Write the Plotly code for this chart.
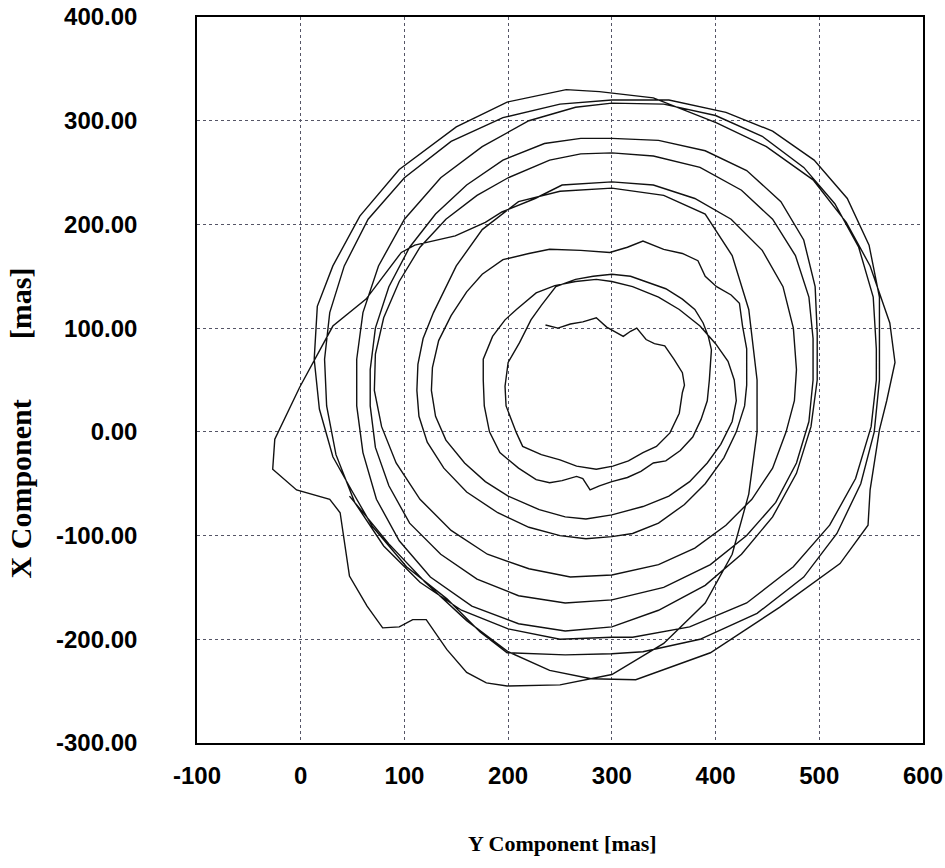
import plotly.graph_objects as go

# ---- data (Y component, X component) in mas ----
loop_01 = [(236,103),(248,100),(260,104),(272,106),(285,110),(295,101),(311,92),(318,97),(324,100),
           (333,89),(341,85),(351,83),(360,70),(368,57),(370,45),(368,38),(365,18),(356,-1),(343,-14),
           (330,-20),(316,-28),(301,-33),(285,-36),(266,-33),(250,-27),(232,-22),(214,-14),(208,-1),
           (198,25),(197,44),(200,67),(211,86)]
loop_02 = [(222,108),(232,122),(246,140),(265,147),(282,150),(300,152),(318,150),(336,144),(352,138),
           (368,128),(380,118),(388,105),(393,92),(396,79),(395,62),(394,50),(392,30),(386,12),(378,-5),
           (366,-18),(352,-28),(340,-30),(328,-38),(315,-44),(300,-48),(288,-52),(279,-56),(272,-45),
           (266,-43),(252,-47),(240,-49),(227,-46),(210,-35),(192,-20),(182,0),(177,25),(176,50),
           (176,70),(185,92),(197,108),(208,118),(227,134)]
loop_03 = [(245,141),(265,145),(285,147),(300,145),(320,140),(345,130),(365,118),(385,102),(400,85),
           (412,68),(418,50),(420,30),(416,10),(405,-12),(392,-30),(375,-48),(355,-62),(330,-72),
           (300,-80),(275,-84),(255,-82),(230,-75),(200,-62),(178,-48),(158,-30),(140,-8),(130,15),
           (126,40),(127,62),(133,88),(145,112),(160,135),(175,152),(195,166)]
loop_04 = [(220,172),(240,176),(270,175),(298,173),(315,178),(330,184),(350,176),(368,172),(383,165),
           (390,150),(401,140),(415,132),(423,124),(426,102),(430,80),(430,63),(430,45),(428,25),
           (420,0),(408,-25),(390,-50),(370,-70),(345,-88),(320,-98),(300,-101),(275,-103),(250,-100),
           (220,-92),(190,-78),(160,-58),(138,-35),(122,-10),(114,15),(112,40),(113,65),(118,90),(128,115)]
loop_05 = [(150,160),(175,195),(210,222),(250,232),(300,235),(350,228),(390,210),(416,170),(432,118),
           (440,50),(440,0),(432,-60),(416,-118),(390,-165),(350,-204),(300,-234),(250,-244),(199,-245),
           (179,-242),(160,-232),(141,-210),(121,-181),(108,-181),(95,-188),(79,-189),(64,-168),(47,-139),
           (41,-98),(38,-78),(28,-65),(-4,-56),(-27,-36),(-25,-7),(-1,43),(31,102),(63,128)]
loop_06 = [(97,173),(110,180),(130,185),(149,189),(178,202),(194,212),(226,225),(252,238),(300,241),
           (340,238),(380,225),(415,205),(445,175),(465,140),(475,100),(478,60),(476,30),(468,0),
           (455,-35),(435,-65),(410,-90),(380,-112),(345,-128),(300,-138),(260,-140),(220,-132),
           (180,-118),(145,-95),(115,-65),(92,-30),(78,5),(71,40),(72,75),(80,110),(95,145),(115,178),
           (140,205),(170,228),(200,245),(240,262),(270,268)]
loop_07 = [(300,269),(340,266),(385,255),(425,233),(455,205),(477,170),(490,130),(494,90),(494,50),
           (490,10),(478,-30),(458,-68),(430,-100),(395,-128),(350,-150),(300,-162),(255,-165),
           (210,-158),(170,-142),(135,-118),(105,-88),(85,-52),(72,-15),(67,25),(67,60),(72,100),
           (85,140),(105,178),(130,210),(160,238),(195,262),(235,278),(270,283)]
loop_08 = [(300,283),(345,281),(390,271),(430,252),(463,222),(485,185),(496,140),(498,95),(498,50),
           (492,5),(478,-40),(455,-82),(425,-118),(390,-148),(345,-172),(300,-188),(255,-192),
           (210,-185),(165,-168),(125,-140),(95,-105),(73,-65),(60,-20),(54,25),(54,70),(60,115),
           (75,160),(100,205),(135,245),(175,275),(220,300),(265,313)]
loop_09 = [(300,317),(350,316),(400,305),(445,285),(485,255),(515,220),(538,178),(552,130),(555,80),
           (555,50),(550,5),(535,-45),(510,-90),(475,-130),(430,-165),(375,-188),(320,-198),(300,-198),
           (250,-200),(200,-190),(155,-172),(115,-145),(80,-110),(52,-68),(34,-22),(25,25),(23,70),
           (28,115),(42,160),(65,205),(100,245),(145,280),(195,303),(250,316)]
loop_10 = [(300,320),(355,320),(410,308),(455,290),(495,262),(527,225),(548,180),(558,130),(558,80),
           (558,50),(553,0),(540,-50),(517,-98),(485,-140),(440,-175),(385,-200),(330,-212),(300,-214),
           (255,-215),(199,-213),(173,-193),(141,-161),(102,-130),(69,-91),(50,-58),(31,-24),(18,22),
           (13,70),(16,121),(31,160),(57,208),(95,253),(150,294),(199,318),(256,330)]
loop_11 = [(288,328),(340,322),(401,298),(449,275),(494,243),(526,202),(549,160),(568,105),(573,67),
           (565,30),(558,2),(549,-56),(547,-90),(520,-127),(462,-169),(395,-213),(323,-239),(280,-238),
           (240,-230),(200,-212),(160,-182),(120,-145),(85,-108),(62,-80),(47,-62)]

loops = [loop_01, loop_02, loop_03, loop_04, loop_05, loop_06,
         loop_07, loop_08, loop_09, loop_10, loop_11]

x_ticks = [-100, 0, 100, 200, 300, 400, 500, 600]
y_ticks = [-300, -200, -100, 0, 100, 200, 300, 400]

y_comp = [p[0] for lp in loops for p in lp]
x_comp = [p[1] for lp in loops for p in lp]

fig = go.Figure()
fig.add_trace(go.Scatter(x=y_comp, y=x_comp, mode="lines",
                         line=dict(color="#111111", width=1.4), hoverinfo="skip"))

grid = dict(showgrid=True, gridcolor="#555566", gridwidth=1, griddash="dot",
            showline=True, linecolor="black", linewidth=1.5, mirror=True,
            zeroline=False, ticks="", fixedrange=True, automargin=False)

fig.update_xaxes(range=[-100, 600], tickvals=x_ticks, ticktext=[str(v) for v in x_ticks],
                 tickfont=dict(family="Liberation Sans", size=24, color="black", weight="bold"),
                 ticklabelstandoff=10, **grid)
fig.update_yaxes(range=[-300, 400], tickvals=y_ticks, ticktext=[f"{v:.2f}" for v in y_ticks],
                 tickfont=dict(family="Liberation Sans", size=24, color="black", weight="bold"),
                 ticklabelstandoff=53, **grid)

fig.add_annotation(text="Y Component [mas]", xref="paper", yref="paper",
                   x=0.504, y=-0.138, xanchor="center", yanchor="middle", showarrow=False,
                   font=dict(family="Liberation Serif", size=22, color="black", weight="bold"))
fig.add_annotation(text="X Component" + "\u00a0" * 8 + "[mas]", xref="paper", yref="paper",
                   x=-0.243, y=0.441, xanchor="center", yanchor="middle", showarrow=False,
                   textangle=-90,
                   font=dict(family="Liberation Serif", size=30, color="black", weight="bold"))

fig.update_layout(width=945, height=868, margin=dict(l=197, r=22, t=17, b=125),
                  paper_bgcolor="white", plot_bgcolor="white", showlegend=False)

fig.write_html("out.html")
